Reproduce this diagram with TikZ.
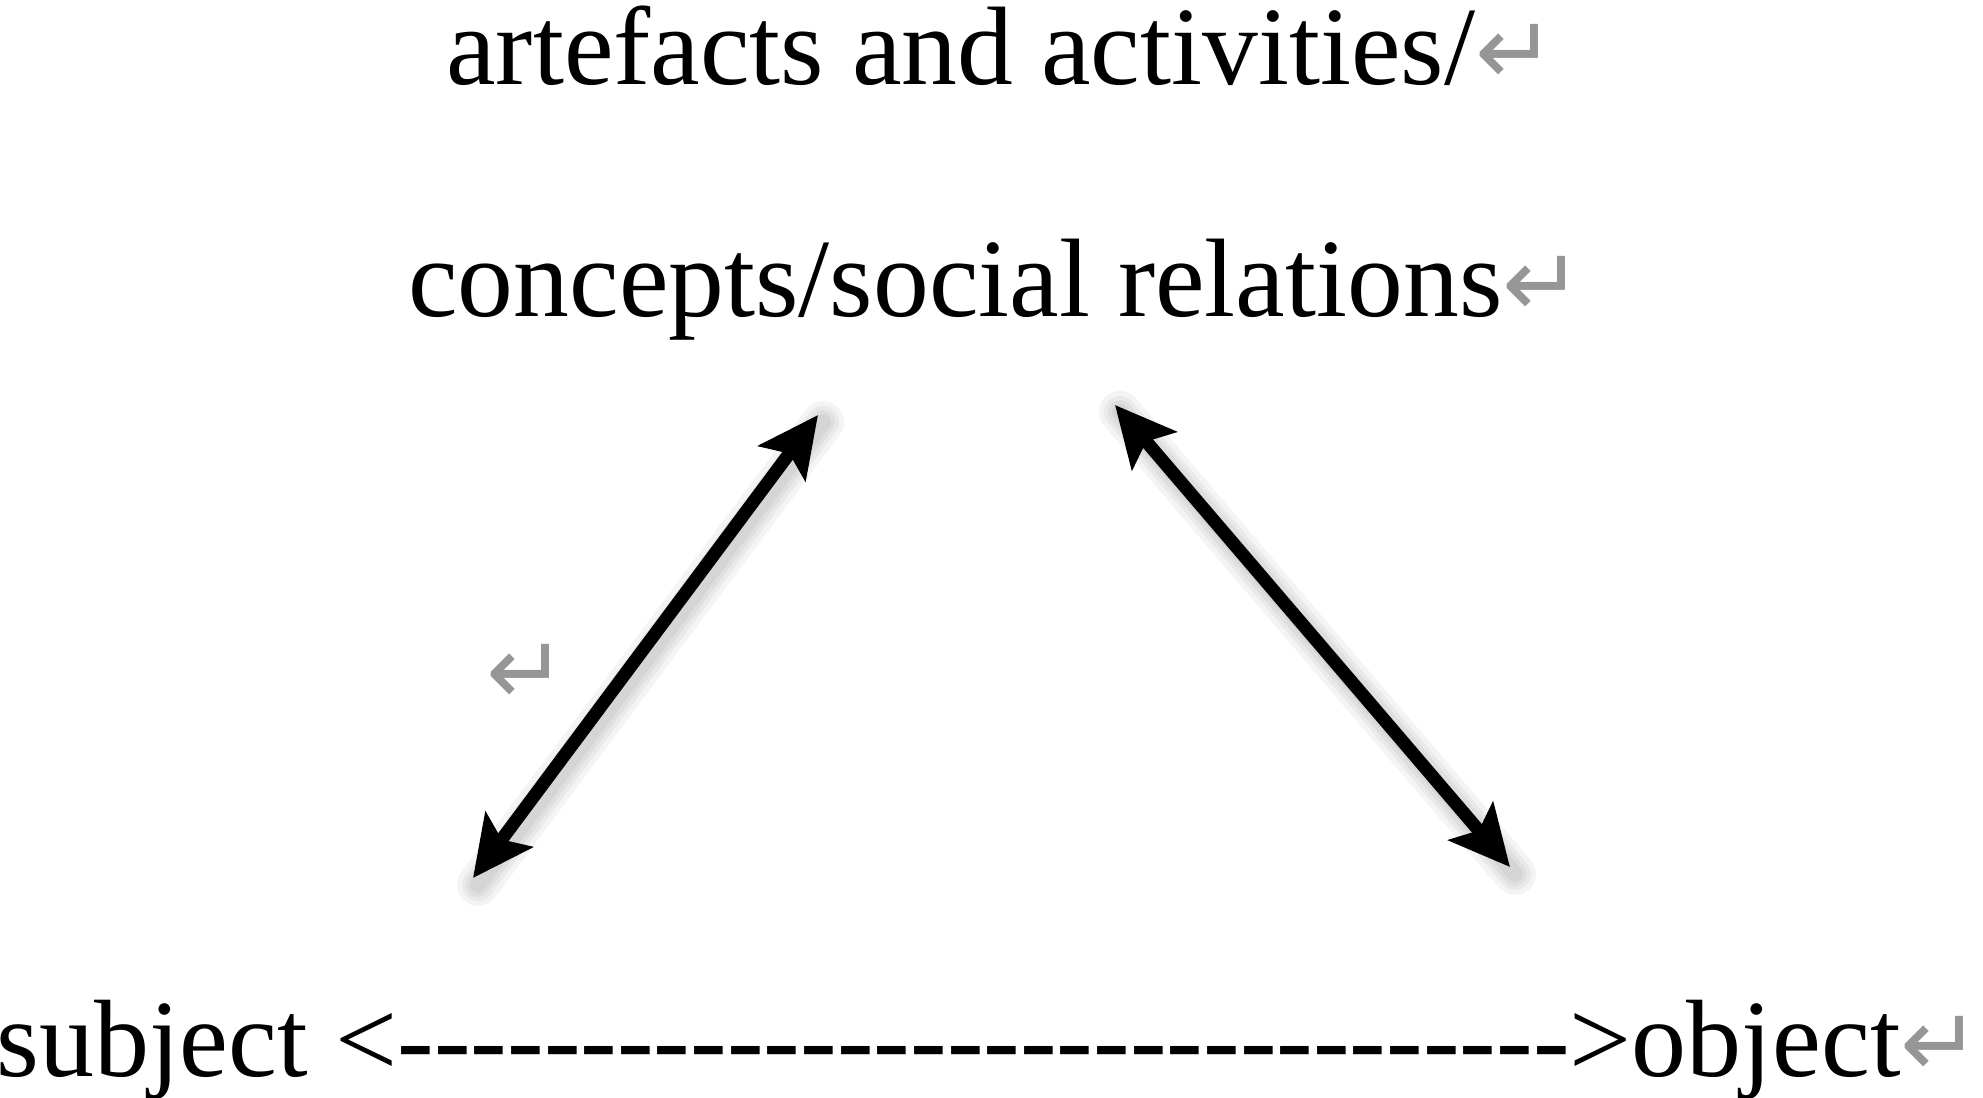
\documentclass[tikz,border=0pt]{standalone}
\usepackage{fontspec}
\setmainfont{Liberation Serif}[Ligatures=TeXOff]
\newfontfamily\markfont{DejaVu Sans}
\usetikzlibrary{arrows.meta}
\definecolor{markgray}{RGB}{150,150,150}
\newcommand{\parmark}{{\markfont\fontsize{48}{48}\selectfont\color{markgray}↵}}

\begin{document}
\begin{tikzpicture}[x=0.5pt,y=-0.5pt,
    every node/.style={inner sep=0pt,anchor=base west,font=\fontsize{55.8}{66}\selectfont},
    dbl/.style={line width=6.5pt,{Stealth[length=30pt,width=29pt,inset=6pt]}-{Stealth[length=30pt,width=29pt,inset=6pt]}},
    shade/.style={line width=#1,draw=black,opacity=0.045,line cap=round}]
  \useasboundingbox (0,0) rectangle (1983,1098);

  \node (artefacts) at (446,84) {artefacts and activities/\parmark};
  \node (concepts) at (408,316) {concepts/social relations\parmark};
  \node[font=\fontsize{55}{66}\selectfont] (relation) at (-4,1076) {subject <-------------------------------->object\parmark};
  \node (mark) at (486,704) {\parmark};

  \coordinate (s-tip) at (473,878);
  \coordinate (c-left) at (818,415);
  \coordinate (c-right) at (1115,405);
  \coordinate (o-tip) at (1510,867);

  \foreach \w in {8,12,16,21}{
    \draw[shade=\w pt] ([shift={(5,7)}]s-tip) -- ([shift={(5,7)}]c-left);
    \draw[shade=\w pt] ([shift={(5,7)}]c-right) -- ([shift={(5,7)}]o-tip);
  }
  \draw[dbl] (s-tip) -- (c-left);
  \draw[dbl] (c-right) -- (o-tip);
\end{tikzpicture}
\end{document}
